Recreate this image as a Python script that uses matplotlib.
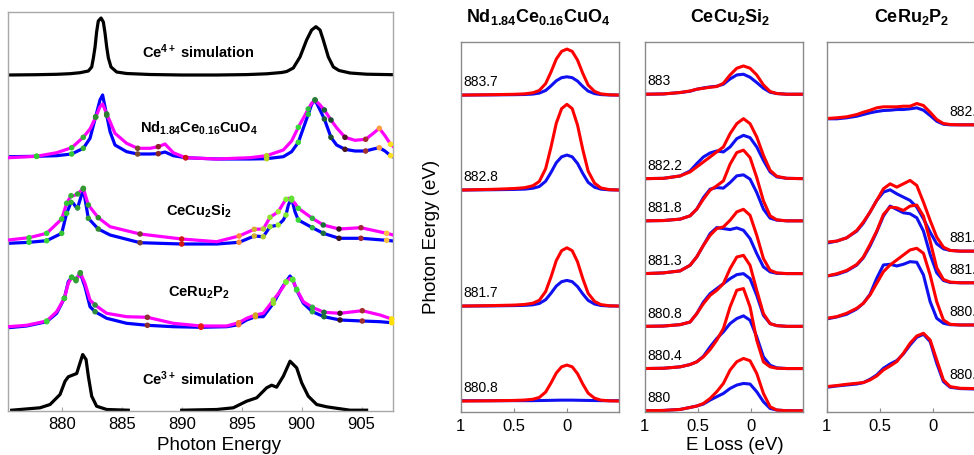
import matplotlib
matplotlib.use('agg')
import matplotlib.pyplot as plt
import numpy as np

plt.rcParams['font.family'] = ['Liberation Sans', 'DejaVu Sans']
plt.rcParams['mathtext.fontset'] = 'custom'
plt.rcParams['mathtext.rm'] = 'Liberation Sans'
plt.rcParams['mathtext.it'] = 'Liberation Sans:italic'
plt.rcParams['mathtext.bf'] = 'Liberation Sans:bold'

# ---------------- left panel: XAS spectra (heights above own baseline) ----------
ce4_energy = [875.55, 877.91, 879.58, 880.69, 881.53, 882.22, 882.50, 882.64, 882.78,
              882.91, 883.05, 883.28, 883.47, 883.61, 883.75, 883.89, 884.11, 884.58,
              885.41, 887.36, 890.00, 892.91, 895.41, 897.08, 898.33, 898.75, 899.30,
              899.86, 900.41, 900.83, 901.19, 901.53, 901.80, 902.22, 902.64, 903.11,
              904.03, 905.41, 907.64]
ce4_int = [0, 0.3, 0.7, 1.3, 2.3, 4, 8, 17, 28, 43, 54, 57, 53, 42, 28, 17, 8, 3,
           1.5, 0.5, 0, 0, 0.4, 1.2, 2.5, 3.5, 7, 18, 35, 45, 48.3, 45, 35, 18, 8, 4.5,
           2, 0.8, 0.3]

nd_energy = [875.55, 877.91, 879.58, 880.83, 881.80, 882.36, 882.83, 883.19, 883.41,
             883.69, 884.03, 884.44, 885.41, 886.33, 887.36, 888.05, 888.61, 889.30,
             890.33, 892.91, 895.69, 897.08, 898.47, 899.16, 899.72, 900.28, 900.55,
             900.83, 901.11, 901.53, 901.89, 902.44, 902.91, 903.61, 904.44, 905.33,
             905.97, 906.47, 906.94, 907.41, 907.64]
nd_blue = [1.0, 1.4, 2.0, 3.7, 9.4, 19.4, 41, 57.7, 62.7, 46, 26, 12.7, 6, 3.7, 3.7,
           4, 5.7, 2, 0, -1.3, -1.3, -1, 1, 6, 15.4, 34.4, 43.4, 53.4, 57.7, 47.7, 38.7,
           20.4, 12.7, 8.4, 6.7, 6.7, 8.7, 10, 6.7, 2, 0.7]
nd_magenta = [0, 1.4, 5, 10, 20.4, 28.7, 40.4, 51, 53.7, 45.4, 36, 24.4, 14.4, 9.4,
              9.4, 11, 13.7, 5, 0, -1.3, 0, 2, 7.7, 16.7, 30.4, 42.7, 48.7, 54.4, 57.7,
              52.7, 47.7, 37.7, 30, 20.4, 17.4, 18.4, 24.4, 29.4, 22, 13.4, 11]
nd_dot_energy = [877.91, 880.83, 881.80, 882.83, 883.75, 886.33, 888.05, 890.33,
                 897.08, 899.72, 900.55, 901.11, 901.89, 902.44, 903.61, 905.33,
                 906.47, 907.41]
nd_dot_colors = ['#2ecc2e', '#33c533', '#33b333', '#2e8b2e', '#2e7d32', '#7a4a2e',
                 '#8b2525', '#d01515', '#b5d321', '#38d838', '#2fbf3f', '#257a35',
                 '#1e5e36', '#1b4d30', '#4a1620', '#a03030', '#ffa040', '#ffe020']

cecu_energy = [875.55, 877.28, 878.75, 880.00, 880.41, 880.78, 880.97, 881.30, 881.80,
               882.22, 883.05, 884.03, 886.53, 890.00, 892.91, 894.78, 896.05, 896.80,
               897.36, 898.05, 898.47, 898.69, 898.89, 899.16, 899.44, 899.72, 900.89,
               901.80, 903.11, 904.94, 907.08, 907.64]
cecu_blue = [-0.6, 0.4, 2.0, 9.4, 29.4, 40.4, 39.4, 33.7, 53.7, 24.4, 13.7, 7.7, 0,
             -1.3, -1.3, 0.4, 6.7, 6, 16, 17.7, 22.7, 27.7, 37.7, 44.4, 31, 22.7, 15,
             9.4, 4.4, 4.4, 2.4, 1.7]
cecu_magenta = [2.7, 5, 9.4, 23.7, 39.4, 47, 47, 48.4, 54.4, 37.7, 25, 16, 8.7, 3.7, 1,
                6.7, 13.4, 13.7, 25.4, 31, 39.4, 43.4, 44.4, 42.7, 39.4, 34.4, 24.4,
                17.7, 13.7, 15, 9.4, 7.7]
cecu_dot_energy = [877.28, 878.75, 880.00, 880.41, 880.78, 881.33, 881.80, 882.22,
                   883.05, 886.53, 890.00, 894.78, 896.05, 896.80, 897.36, 898.05,
                   898.69, 899.16, 899.72, 900.89, 901.80, 903.11, 904.94, 907.08]
cecu_dot_colors = ['#38d838', '#38d838', '#33c533', '#33c533', '#33b333', '#33a033',
                   '#339933', '#33a033', '#2e8b2e', '#7a4030', '#d01818', '#ff8c3a',
                   '#d4b030', '#b0cc30', '#90e030', '#a0ee30', '#80ee30', '#60e030',
                   '#38d838', '#30b040', '#1e6e3a', '#3a1820', '#a02838', '#ffc040']

ceru_energy = [875.55, 877.08, 878.75, 879.58, 880.22, 880.55, 880.83, 881.19, 881.55,
               881.94, 882.36, 882.78, 883.75, 885.41, 887.14, 889.30, 891.61, 893.75,
               894.75, 895.41, 896.14, 896.80, 897.64, 898.33, 898.69, 899.03, 899.25,
               899.58, 900.14, 900.89, 901.86, 903.19, 905.05, 906.53, 907.50, 907.64]
ceru_blue = [0, 1.7, 6, 14.4, 29.4, 46, 50.4, 48.4, 54.4, 41, 21, 16, 9.4, 4.4, 2.4, 1,
             0.4, 1, 3, 7.7, 11, 11, 24.4, 39.4, 46, 51.7, 48.4, 37.7, 24.4, 16, 11,
             7.7, 6.7, 6, 5, 5]
ceru_magenta = [1, 2.4, 6.7, 16, 29.4, 44.4, 50.4, 47, 55, 44.4, 27.7, 22.7, 14.4, 11,
                10.4, 4.4, 1.7, 1.7, 5, 9.4, 12.7, 14.4, 27.7, 38.4, 45.4, 49.4, 47.7,
                38.4, 26, 20.4, 15.4, 14.4, 17, 12.7, 8.7, 7.7]
ceru_dot_energy = [878.75, 880.22, 880.83, 881.19, 881.55, 882.78, 887.14, 891.61,
                   894.75, 896.14, 897.64, 898.69, 899.25, 899.58, 900.89, 901.86,
                   903.19, 905.05, 907.50]
ceru_dot_colors = ['#38d838', '#33c533', '#33b333', '#33a033', '#339933', '#2e8b3a',
                   '#8b3030', '#ee1515', '#ff7a30', '#d4a820', '#90dd30', '#70ee30',
                   '#50e030', '#38d838', '#30b040', '#1e6e3a', '#3a1820', '#a03030',
                   '#ffe000']

ce3_energy_m5 = [875.83, 878.19, 879.03, 879.86, 880.28, 880.55, 881.25, 881.53, 881.75,
                 882.03, 882.22, 882.50, 882.91, 883.75, 885.55]
ce3_int_m5 = [0, 2.4, 5.7, 15.7, 29, 33.4, 36.7, 47.4, 55.7, 50.7, 34, 14, 4, 0.7, 0]
ce3_energy_m4 = [890.00, 892.91, 894.30, 895.41, 896.25, 897.08, 897.50, 897.91, 898.47,
                 899.03, 899.58, 900.00, 900.55, 901.25, 902.08, 902.64, 904.03, 905.41]
ce3_int_m4 = [0, 0.7, 2.4, 9, 12.4, 22.4, 25, 23, 34, 49, 42.4, 27.4, 14, 5.7, 3.4, 2.4,
              0, 0]

# ---------------- right panels: RIXS spectra (heights above own baseline) -------
nd_loss = [1.0, 0.7, 0.5, 0.4, 0.32, 0.26, 0.2, 0.15, 0.1, 0.05, 0.0, -0.05, -0.1,
           -0.15, -0.2, -0.26, -0.32, -0.4, -0.5]
nd_rixs_energy = [883.7, 882.8, 881.7, 880.8]
nd_rixs_red = [
    [0, 0.4, 0.8, 1.2, 2.3, 4.6, 11.5, 23, 36, 43.7, 46, 43.7, 35, 21.6, 10, 3.7, 1.2, 0.3, 0],
    [0, 0.7, 1.5, 2.3, 4.3, 8.6, 21.4, 42.8, 66.8, 81.4, 85.7, 81.4, 65, 40.3, 18.9, 6.9, 2.1, 0.4, 0],
    [0, 0.5, 1.0, 1.6, 2.9, 5.8, 14.6, 29, 45.5, 55.4, 58.3, 55.4, 44.3, 27.4, 12.8, 4.7, 1.5, 0.3, 0],
    [0, 0.3, 0.6, 1.0, 1.8, 3.6, 9, 18, 28, 34.2, 36, 34.2, 27.4, 16.9, 7.9, 2.9, 0.9, 0.2, 0]]
nd_rixs_blue = [
    [0, 0.2, 0.4, 0.6, 1.0, 2.0, 4.6, 9.2, 14.3, 17.4, 18.3, 17.4, 14, 8.6, 4, 1.5, 0.5, 0.1, 0],
    [0, 0.3, 0.6, 0.9, 1.8, 3.5, 8.8, 17.5, 27.3, 33.2, 35, 33.2, 26.6, 16.5, 7.7, 2.8, 0.9, 0.2, 0],
    [0, 0.2, 0.5, 0.7, 1.3, 2.6, 6.4, 12.8, 20, 24.4, 25.7, 24.4, 19.5, 12.1, 5.7, 2.1, 0.6, 0.1, 0],
    [0.3, 0.3, 0.4, 0.4, 0.4, 0.5, 0.6, 0.7, 0.8, 0.9, 0.9, 0.9, 0.8, 0.7, 0.6, 0.5, 0.4, 0.3, 0.3]]

cecu_loss = [1.0, 0.824, 0.667, 0.573, 0.51, 0.447, 0.384, 0.322, 0.259, 0.196, 0.133,
             0.07, 0.008, -0.055, -0.118, -0.181, -0.244, -0.338, -0.495]
cecu_rixs_energy = [883.0, 882.2, 881.8, 881.3, 880.8, 880.4, 880.0]
cecu_rixs_red = [
    [0, 0.3, 1.7, 3.3, 5, 6, 7, 7.7, 11, 19.3, 26, 28.3, 26, 19.3, 9.3, 2.7, 0.7, 0, 0],
    [0, 0.3, 2.7, 6.7, 11.7, 16.7, 21.7, 26.7, 31.7, 45, 55, 60, 55, 41.7, 23.3, 8.3, 2.3, 0.3, 0],
    [0, 0.3, 1.7, 5, 11.7, 21.7, 30.7, 35, 40, 56.7, 68.3, 70.7, 63.3, 43.3, 20, 5, 1, 0, 0],
    [0, 0.7, 2.7, 8.3, 16.7, 28.3, 38.3, 45, 46.7, 53.3, 61.7, 64.3, 58.3, 38.3, 15, 3.3, 0.7, 0, 0],
    [0, 0.3, 1.7, 4.3, 12.7, 22.7, 31, 36, 42.7, 57.7, 69.3, 71, 61, 36, 12.7, 2.7, 0.7, 0, 0],
    [0, 0.3, 1.7, 4, 6.7, 11.7, 19, 28.3, 40, 61.7, 78.3, 80, 61.7, 28.3, 6.7, 1.7, 0.3, 0, 0],
    [0, 0.3, 1.3, 3.3, 4.7, 7.3, 12.3, 19, 27.3, 40.7, 49, 52.3, 50, 37.3, 17.3, 4, 0.7, 0, 0]]
cecu_rixs_blue = [
    [0, 0.3, 1.7, 3, 5, 6.3, 7.3, 8, 10, 15.3, 19.3, 20, 17, 11.7, 6, 2, 0.7, 0, 0],
    [0, 0.3, 2.7, 7.7, 15, 21.7, 25.7, 27.7, 26.7, 31.7, 40, 43.3, 41, 31.7, 18.3, 6.7, 1.7, 0.3, 0],
    [0, 0.3, 1.7, 5, 11.7, 23.3, 31.7, 33.3, 32.7, 38.3, 45, 46, 41.7, 28.3, 11.7, 2.7, 0.7, 0, 0],
    [0, 0.7, 2.7, 8.3, 16.7, 28.3, 40, 46, 45, 44, 45.7, 43.3, 35, 20, 6.7, 1.7, 0.3, 0, 0],
    [0, 0.3, 1.7, 4.3, 12.7, 24.3, 32.7, 37.7, 42.7, 47.7, 51.7, 52.7, 47.7, 31, 11, 2.7, 0.7, 0, 0],
    [0, 0.3, 1.7, 4, 6.7, 12.3, 21.7, 30, 36.7, 45, 50, 52.7, 48.3, 31.7, 11.7, 3.3, 0.7, 0, 0],
    [0, 0.3, 1.3, 3.3, 4.7, 6.7, 10.7, 14, 17.3, 22.3, 25.7, 27.3, 26.7, 19, 9, 2.3, 0.7, 0, 0]]

ceru_loss = [1.0, 0.906, 0.812, 0.717, 0.655, 0.592, 0.529, 0.466, 0.403, 0.340, 0.278,
             0.215, 0.152, 0.089, 0.026, -0.036, -0.099, -0.162, -0.256, -0.388]
ceru_rixs_energy = [882.7, 881.5, 881.2, 880.8, 880.2]
ceru_rixs_red = [
    [6, 6.7, 7.7, 10, 12.3, 14.3, 16.7, 17.7, 17.7, 17.7, 18.3, 18.3, 21, 19, 12.3, 5, 1, 0, -0.3, -0.3],
    [9, 10, 13.3, 20.7, 29, 39, 50.7, 62.3, 67.3, 64, 67.3, 70.7, 65.7, 49, 30.7, 14, 4, 0.7, 0, 0],
    [6.7, 9, 12.3, 18.3, 25.7, 38.3, 51.7, 68.3, 75.7, 75, 72.3, 76.7, 77.7, 66.7, 41.7, 15, 3.3, 0.7, 0, 0],
    [6.7, 8.3, 11.7, 16.7, 21.7, 30, 41.7, 53.3, 60, 65, 70, 75, 76.7, 71.7, 50, 23.3, 5, 0.7, 0, 0],
    [1.7, 2.7, 4, 5, 5.7, 8.3, 12.3, 18.3, 22.3, 26.7, 35, 45, 52.3, 55, 48.3, 28.3, 8.3, 1.7, 0, -0.3]]
ceru_rixs_blue = [
    [5.7, 5.7, 6.7, 8.3, 10, 11.7, 13, 14, 14.3, 15, 15, 15.7, 16.7, 14.3, 9, 3.3, 0.3, -0.3, -0.3, -0.3],
    [8, 10, 13.3, 20, 28, 39, 50.7, 59, 61.3, 57.3, 54, 50.7, 44, 32.3, 19, 7.3, 2.3, 0.7, 0, 0],
    [6.7, 8.3, 11.7, 17.7, 25, 36.7, 51, 66.7, 76.7, 73.3, 70, 69, 65, 51.7, 28.3, 10, 2.3, 0.3, 0, 0],
    [6, 8, 10.7, 16, 21.7, 30.7, 46.7, 60, 60.7, 59, 60.7, 63.3, 62.7, 50, 23.3, 6.7, 1.7, 0.3, 0, 0],
    [1, 2.3, 3.3, 4.3, 5.7, 9, 13.3, 20, 24.3, 27.7, 34.3, 43.3, 51, 54, 46.7, 25, 6.7, 1, -0.3, -0.7]]

xas_ticks = [880, 885, 890, 895, 900, 905]
loss_ticks = [1, 0.5, 0]
loss_ticklabels = ['1', '0.5', '0']

W, H = 974, 455


def px_axes(fig, x0, y0, x1, y1):
    """Add axes from pixel box (top-left origin)."""
    return fig.add_axes([x0 / W, 1 - y1 / H, (x1 - x0) / W, (y1 - y0) / H])


def style_frame(ax, color):
    for s in ax.spines.values():
        s.set_color(color)
        s.set_linewidth(1.0)


def plot_pair(ax, energy, blue, magenta, offset, dot_energy, dot_colors):
    e = np.asarray(energy)
    b = np.asarray(blue) + offset
    m = np.asarray(magenta) + offset
    ax.plot(e, b, color='#0000ff', lw=2.3, solid_capstyle='round', zorder=2)
    ax.plot(e, m, color='#ff00ff', lw=2.3, solid_capstyle='round', zorder=3)
    de = np.asarray(dot_energy)
    for yy in (np.interp(de, e, b), np.interp(de, e, m)):
        ax.scatter(de, yy, s=16, c=dot_colors, edgecolors='none', zorder=4,
                   clip_on=False)


fig = plt.figure(figsize=(W / 100, H / 100), dpi=100)

# ---- left panel
ax = px_axes(fig, 8.3, 12.3, 393, 411)
style_frame(ax, '#a8a8a8')
ax.plot(ce4_energy, np.asarray(ce4_int) + 336, color='black', lw=2.3)
plot_pair(ax, nd_energy, nd_blue, nd_magenta, 253.3, nd_dot_energy, nd_dot_colors)
plot_pair(ax, cecu_energy, cecu_blue, cecu_magenta, 168.3, cecu_dot_energy,
          cecu_dot_colors)
plot_pair(ax, ceru_energy, ceru_blue, ceru_magenta, 83.3, ceru_dot_energy,
          ceru_dot_colors)
ax.plot(ce3_energy_m5, np.asarray(ce3_int_m5) + 0.8, color='black', lw=2.3,
        clip_on=False)
ax.plot(ce3_energy_m4, np.asarray(ce3_int_m4) + 0.8, color='black', lw=2.3,
        clip_on=False)

labels = [r'$\mathbf{Ce^{4+}\ simulation}$', r'$\mathbf{Nd_{1.84}Ce_{0.16}CuO_4}$',
          r'$\mathbf{CeCu_2Si_2}$', r'$\mathbf{CeRu_2P_2}$',
          r'$\mathbf{Ce^{3+}\ simulation}$']
for lab, yy in zip(labels, [359.3, 283, 199.3, 118.3, 32]):
    ax.text(891.42, yy, lab, ha='center', va='center', fontsize=10.5)

ax.set_xlim(875.55, 907.61)
ax.set_ylim(0, 398.7)
ax.set_yticks([])
ax.set_xticks(xas_ticks)
ax.tick_params(axis='x', direction='in', length=3, color='#a8a8a8', pad=4,
               labelsize=12)

fig.text(219 / W, 1 - 446 / H, 'Photon Energy', ha='center', va='center',
         fontsize=13.5)

# ---- right panels
panels = [
    (460.7, nd_loss, nd_rixs_energy, nd_rixs_red, nd_rixs_blue, (880.699, 884.206),
     r'$\mathbf{Nd_{1.84}Ce_{0.16}CuO_4}$', 538, 'left'),
    (644.7, cecu_loss, cecu_rixs_energy, cecu_rixs_red, cecu_rixs_blue,
     (879.991, 883.498), r'$\mathbf{CeCu_2Si_2}$', 730, 'left'),
    (826.7, ceru_loss, ceru_rixs_energy, ceru_rixs_red, ceru_rixs_blue,
     (879.978, 883.485), r'$\mathbf{CeRu_2P_2}$', 912, 'right'),
]
px_per_ev = 105.5
for x0, loss, energies, reds, blues, ylim, title, tx, side in panels:
    ax = px_axes(fig, x0, 41.7, x0 + 158.6, 411.7)
    style_frame(ax, '#8a8a8a')
    for en, r, b in zip(energies, reds, blues):
        ax.plot(loss, en + np.asarray(b) / px_per_ev, color='#1010f0', lw=2.2)
        ax.plot(loss, en + np.asarray(r) / px_per_ev, color='#ff0000', lw=2.2)
        lx = 0.975 if side == 'left' else -0.155
        lab = f'{en:g}'
        ax.text(lx, en + 0.055, lab, ha='left', va='bottom', fontsize=10)
    ax.set_xlim(1.0, 1.0 - 158.6 / 106.2)
    ax.set_ylim(*ylim)
    ax.set_yticks([])
    ax.set_xticks(loss_ticks)
    ax.set_xticklabels(loss_ticklabels)
    ax.tick_params(axis='x', direction='in', length=3, color='#8a8a8a', pad=5,
                   labelsize=12)
    fig.text(tx / W, 1 - 17 / H, title, ha='center', va='center', fontsize=13)

fig.text(432 / W, 1 - 237 / H, 'Photon Eergy (eV)', rotation=90, ha='center',
         va='center', fontsize=13.5)
fig.text(735 / W, 1 - 445 / H, 'E Loss (eV)', ha='center', va='center',
         fontsize=13.5)

fig.savefig('out.png', dpi=100)
